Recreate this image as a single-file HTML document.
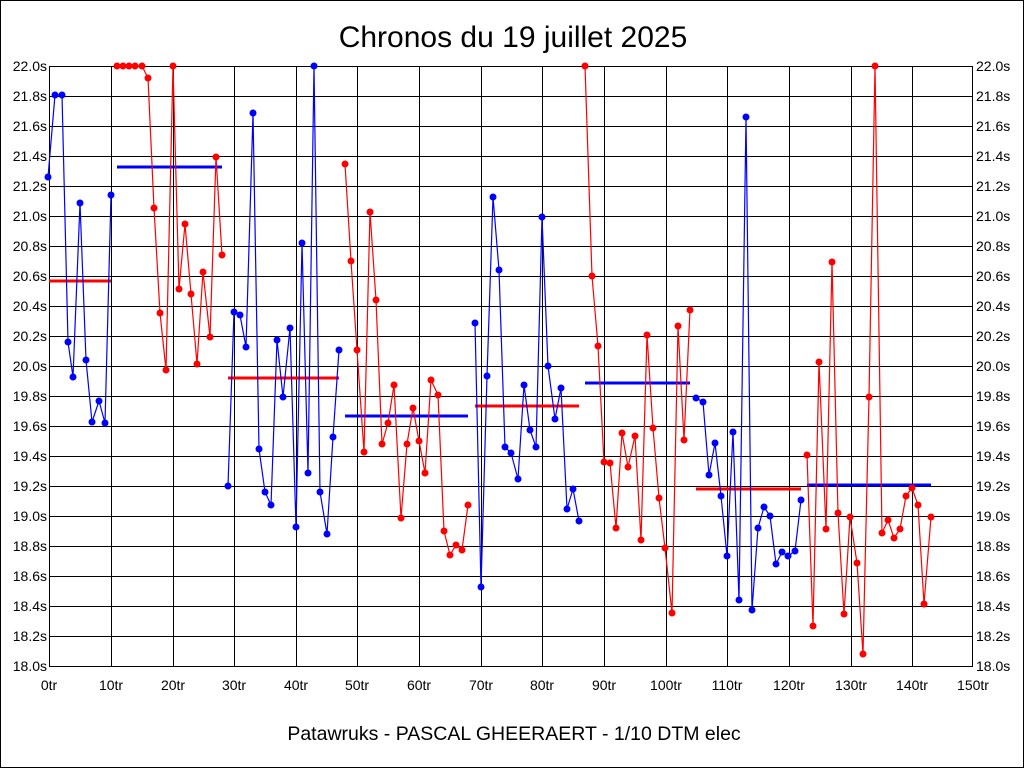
<!DOCTYPE html>
<html><head><meta charset="utf-8"><style>
body{margin:0;background:#fff}
svg{display:block;font-family:"Liberation Sans",sans-serif}
</style></head><body>
<svg width="1024" height="768" viewBox="0 0 1024 768" xmlns="http://www.w3.org/2000/svg">
<rect x="0.5" y="0.5" width="1023" height="767" fill="#fff" stroke="#000"/>
<text x="513" y="47" font-size="30" text-anchor="middle">Chronos du 19 juillet 2025</text>
<g stroke="#000" stroke-width="1" fill="none">
<rect x="49.5" y="66.5" width="923" height="600"/>
<path d="M49 96.5H973M49 126.5H973M49 156.5H973M49 186.5H973M49 216.5H973M49 246.5H973M49 276.5H973M49 306.5H973M49 336.5H973M49 366.5H973M49 396.5H973M49 426.5H973M49 456.5H973M49 486.5H973M49 516.5H973M49 546.5H973M49 576.5H973M49 606.5H973M49 636.5H973"/>
<path d="M111.5 66V666M173.5 66V666M234.5 66V666M296.5 66V666M357.5 66V666M419.5 66V666M481.5 66V666M542.5 66V666M604.5 66V666M666.5 66V666M727.5 66V666M789.5 66V666M851.5 66V666M912.5 66V666"/>
</g>
<g font-size="14" text-anchor="end">
<text x="47" y="71">22.0s</text><text x="47" y="101">21.8s</text><text x="47" y="131">21.6s</text><text x="47" y="161">21.4s</text><text x="47" y="191">21.2s</text><text x="47" y="221">21.0s</text><text x="47" y="251">20.8s</text><text x="47" y="281">20.6s</text><text x="47" y="311">20.4s</text><text x="47" y="341">20.2s</text><text x="47" y="371">20.0s</text><text x="47" y="401">19.8s</text><text x="47" y="431">19.6s</text><text x="47" y="461">19.4s</text><text x="47" y="491">19.2s</text><text x="47" y="521">19.0s</text><text x="47" y="551">18.8s</text><text x="47" y="581">18.6s</text><text x="47" y="611">18.4s</text><text x="47" y="641">18.2s</text><text x="47" y="671">18.0s</text>
</g>
<g font-size="14" text-anchor="start">
<text x="976" y="71">22.0s</text><text x="976" y="101">21.8s</text><text x="976" y="131">21.6s</text><text x="976" y="161">21.4s</text><text x="976" y="191">21.2s</text><text x="976" y="221">21.0s</text><text x="976" y="251">20.8s</text><text x="976" y="281">20.6s</text><text x="976" y="311">20.4s</text><text x="976" y="341">20.2s</text><text x="976" y="371">20.0s</text><text x="976" y="401">19.8s</text><text x="976" y="431">19.6s</text><text x="976" y="461">19.4s</text><text x="976" y="491">19.2s</text><text x="976" y="521">19.0s</text><text x="976" y="551">18.8s</text><text x="976" y="581">18.6s</text><text x="976" y="611">18.4s</text><text x="976" y="641">18.2s</text><text x="976" y="671">18.0s</text>
</g>
<g font-size="14" text-anchor="middle">
<text x="49" y="690">0tr</text><text x="111" y="690">10tr</text><text x="173" y="690">20tr</text><text x="234" y="690">30tr</text><text x="296" y="690">40tr</text><text x="357" y="690">50tr</text><text x="419" y="690">60tr</text><text x="481" y="690">70tr</text><text x="542" y="690">80tr</text><text x="604" y="690">90tr</text><text x="666" y="690">100tr</text><text x="727" y="690">110tr</text><text x="789" y="690">120tr</text><text x="851" y="690">130tr</text><text x="912" y="690">140tr</text><text x="973" y="690">150tr</text>
</g>
<text x="514" y="740" font-size="19.5" text-anchor="middle">Patawruks - PASCAL GHEERAERT - 1/10 DTM elec</text>

<g stroke-width="3">
<path stroke="#f00" d="M49 281H111M228 378H339M475 406H579M696 489H801"/>
<path stroke="#00f" d="M117 167H222M345 416H468M585 383H690M807 485H931"/>
</g>

<g fill="none" stroke-width="1.2">
<polyline stroke="#00f" points="48,177 55,95 62,95 68,342 73,377 80,203 86,360 92,422 99,401 105,423 111,195"/>
<polyline stroke="#f00" points="117,66 123,66 129,66 135,66 142,66 148,78 154,208 160,313 166,370 173,66 179,289 185,224 191,294 197,364 203,272 210,337 216,157 222,255"/>
<polyline stroke="#00f" points="228,486 234,312 240,315 246,347 253,113 259,449 265,492 271,505 277,340 283,397 290,328 296,527 302,243 308,473 314,66 320,492 327,534 333,437 339,350"/>
<polyline stroke="#f00" points="345,164 351,261 357,350 364,452 370,212 376,300 382,444 388,423 394,385 401,518 407,444 413,408 419,441 425,473 431,380 438,395 444,531 450,555 456,545 462,550 468,505"/>
<polyline stroke="#00f" points="475,323 481,587 487,376 493,197 499,270 505,447 511,453 518,479 524,385 530,430 536,447 542,217 548,366 555,419 561,388 567,509 573,489 579,521"/>
<polyline stroke="#f00" points="585,66 592,276 598,346 604,462 610,463 616,528 622,433 628,467 635,436 641,540 647,335 653,428 659,498 665,548 672,613 678,326 684,440 690,310"/>
<polyline stroke="#00f" points="696,398 703,402 709,475 715,443 721,496 727,556 733,432 739,600 746,117 752,610 758,528 764,507 770,516 776,564 782,552 788,556 795,551 801,500"/>
<polyline stroke="#f00" points="807,455 813,626 819,362 826,529 832,262 838,513 844,614 850,517 857,563 863,654 869,397 875,66 882,533 888,520 894,538 900,529 906,496 912,488 918,505 924,604 931,517"/>
</g>
<g fill="#00f">
<circle cx="48" cy="177" r="3.5"/><circle cx="55" cy="95" r="3.5"/><circle cx="62" cy="95" r="3.5"/><circle cx="68" cy="342" r="3.5"/><circle cx="73" cy="377" r="3.5"/><circle cx="80" cy="203" r="3.5"/><circle cx="86" cy="360" r="3.5"/><circle cx="92" cy="422" r="3.5"/><circle cx="99" cy="401" r="3.5"/><circle cx="105" cy="423" r="3.5"/><circle cx="111" cy="195" r="3.5"/>
<circle cx="228" cy="486" r="3.5"/><circle cx="234" cy="312" r="3.5"/><circle cx="240" cy="315" r="3.5"/><circle cx="246" cy="347" r="3.5"/><circle cx="253" cy="113" r="3.5"/><circle cx="259" cy="449" r="3.5"/><circle cx="265" cy="492" r="3.5"/><circle cx="271" cy="505" r="3.5"/><circle cx="277" cy="340" r="3.5"/><circle cx="283" cy="397" r="3.5"/><circle cx="290" cy="328" r="3.5"/><circle cx="296" cy="527" r="3.5"/><circle cx="302" cy="243" r="3.5"/><circle cx="308" cy="473" r="3.5"/><circle cx="314" cy="66" r="3.5"/><circle cx="320" cy="492" r="3.5"/><circle cx="327" cy="534" r="3.5"/><circle cx="333" cy="437" r="3.5"/><circle cx="339" cy="350" r="3.5"/>
<circle cx="475" cy="323" r="3.5"/><circle cx="481" cy="587" r="3.5"/><circle cx="487" cy="376" r="3.5"/><circle cx="493" cy="197" r="3.5"/><circle cx="499" cy="270" r="3.5"/><circle cx="505" cy="447" r="3.5"/><circle cx="511" cy="453" r="3.5"/><circle cx="518" cy="479" r="3.5"/><circle cx="524" cy="385" r="3.5"/><circle cx="530" cy="430" r="3.5"/><circle cx="536" cy="447" r="3.5"/><circle cx="542" cy="217" r="3.5"/><circle cx="548" cy="366" r="3.5"/><circle cx="555" cy="419" r="3.5"/><circle cx="561" cy="388" r="3.5"/><circle cx="567" cy="509" r="3.5"/><circle cx="573" cy="489" r="3.5"/><circle cx="579" cy="521" r="3.5"/>
<circle cx="696" cy="398" r="3.5"/><circle cx="703" cy="402" r="3.5"/><circle cx="709" cy="475" r="3.5"/><circle cx="715" cy="443" r="3.5"/><circle cx="721" cy="496" r="3.5"/><circle cx="727" cy="556" r="3.5"/><circle cx="733" cy="432" r="3.5"/><circle cx="739" cy="600" r="3.5"/><circle cx="746" cy="117" r="3.5"/><circle cx="752" cy="610" r="3.5"/><circle cx="758" cy="528" r="3.5"/><circle cx="764" cy="507" r="3.5"/><circle cx="770" cy="516" r="3.5"/><circle cx="776" cy="564" r="3.5"/><circle cx="782" cy="552" r="3.5"/><circle cx="788" cy="556" r="3.5"/><circle cx="795" cy="551" r="3.5"/><circle cx="801" cy="500" r="3.5"/>
</g>
<g fill="#f00">
<circle cx="117" cy="66" r="3.5"/><circle cx="123" cy="66" r="3.5"/><circle cx="129" cy="66" r="3.5"/><circle cx="135" cy="66" r="3.5"/><circle cx="142" cy="66" r="3.5"/><circle cx="148" cy="78" r="3.5"/><circle cx="154" cy="208" r="3.5"/><circle cx="160" cy="313" r="3.5"/><circle cx="166" cy="370" r="3.5"/><circle cx="173" cy="66" r="3.5"/><circle cx="179" cy="289" r="3.5"/><circle cx="185" cy="224" r="3.5"/><circle cx="191" cy="294" r="3.5"/><circle cx="197" cy="364" r="3.5"/><circle cx="203" cy="272" r="3.5"/><circle cx="210" cy="337" r="3.5"/><circle cx="216" cy="157" r="3.5"/><circle cx="222" cy="255" r="3.5"/>
<circle cx="345" cy="164" r="3.5"/><circle cx="351" cy="261" r="3.5"/><circle cx="357" cy="350" r="3.5"/><circle cx="364" cy="452" r="3.5"/><circle cx="370" cy="212" r="3.5"/><circle cx="376" cy="300" r="3.5"/><circle cx="382" cy="444" r="3.5"/><circle cx="388" cy="423" r="3.5"/><circle cx="394" cy="385" r="3.5"/><circle cx="401" cy="518" r="3.5"/><circle cx="407" cy="444" r="3.5"/><circle cx="413" cy="408" r="3.5"/><circle cx="419" cy="441" r="3.5"/><circle cx="425" cy="473" r="3.5"/><circle cx="431" cy="380" r="3.5"/><circle cx="438" cy="395" r="3.5"/><circle cx="444" cy="531" r="3.5"/><circle cx="450" cy="555" r="3.5"/><circle cx="456" cy="545" r="3.5"/><circle cx="462" cy="550" r="3.5"/><circle cx="468" cy="505" r="3.5"/>
<circle cx="585" cy="66" r="3.5"/><circle cx="592" cy="276" r="3.5"/><circle cx="598" cy="346" r="3.5"/><circle cx="604" cy="462" r="3.5"/><circle cx="610" cy="463" r="3.5"/><circle cx="616" cy="528" r="3.5"/><circle cx="622" cy="433" r="3.5"/><circle cx="628" cy="467" r="3.5"/><circle cx="635" cy="436" r="3.5"/><circle cx="641" cy="540" r="3.5"/><circle cx="647" cy="335" r="3.5"/><circle cx="653" cy="428" r="3.5"/><circle cx="659" cy="498" r="3.5"/><circle cx="665" cy="548" r="3.5"/><circle cx="672" cy="613" r="3.5"/><circle cx="678" cy="326" r="3.5"/><circle cx="684" cy="440" r="3.5"/><circle cx="690" cy="310" r="3.5"/>
<circle cx="807" cy="455" r="3.5"/><circle cx="813" cy="626" r="3.5"/><circle cx="819" cy="362" r="3.5"/><circle cx="826" cy="529" r="3.5"/><circle cx="832" cy="262" r="3.5"/><circle cx="838" cy="513" r="3.5"/><circle cx="844" cy="614" r="3.5"/><circle cx="850" cy="517" r="3.5"/><circle cx="857" cy="563" r="3.5"/><circle cx="863" cy="654" r="3.5"/><circle cx="869" cy="397" r="3.5"/><circle cx="875" cy="66" r="3.5"/><circle cx="882" cy="533" r="3.5"/><circle cx="888" cy="520" r="3.5"/><circle cx="894" cy="538" r="3.5"/><circle cx="900" cy="529" r="3.5"/><circle cx="906" cy="496" r="3.5"/><circle cx="912" cy="488" r="3.5"/><circle cx="918" cy="505" r="3.5"/><circle cx="924" cy="604" r="3.5"/><circle cx="931" cy="517" r="3.5"/>
</g>
</svg>
</body></html>
